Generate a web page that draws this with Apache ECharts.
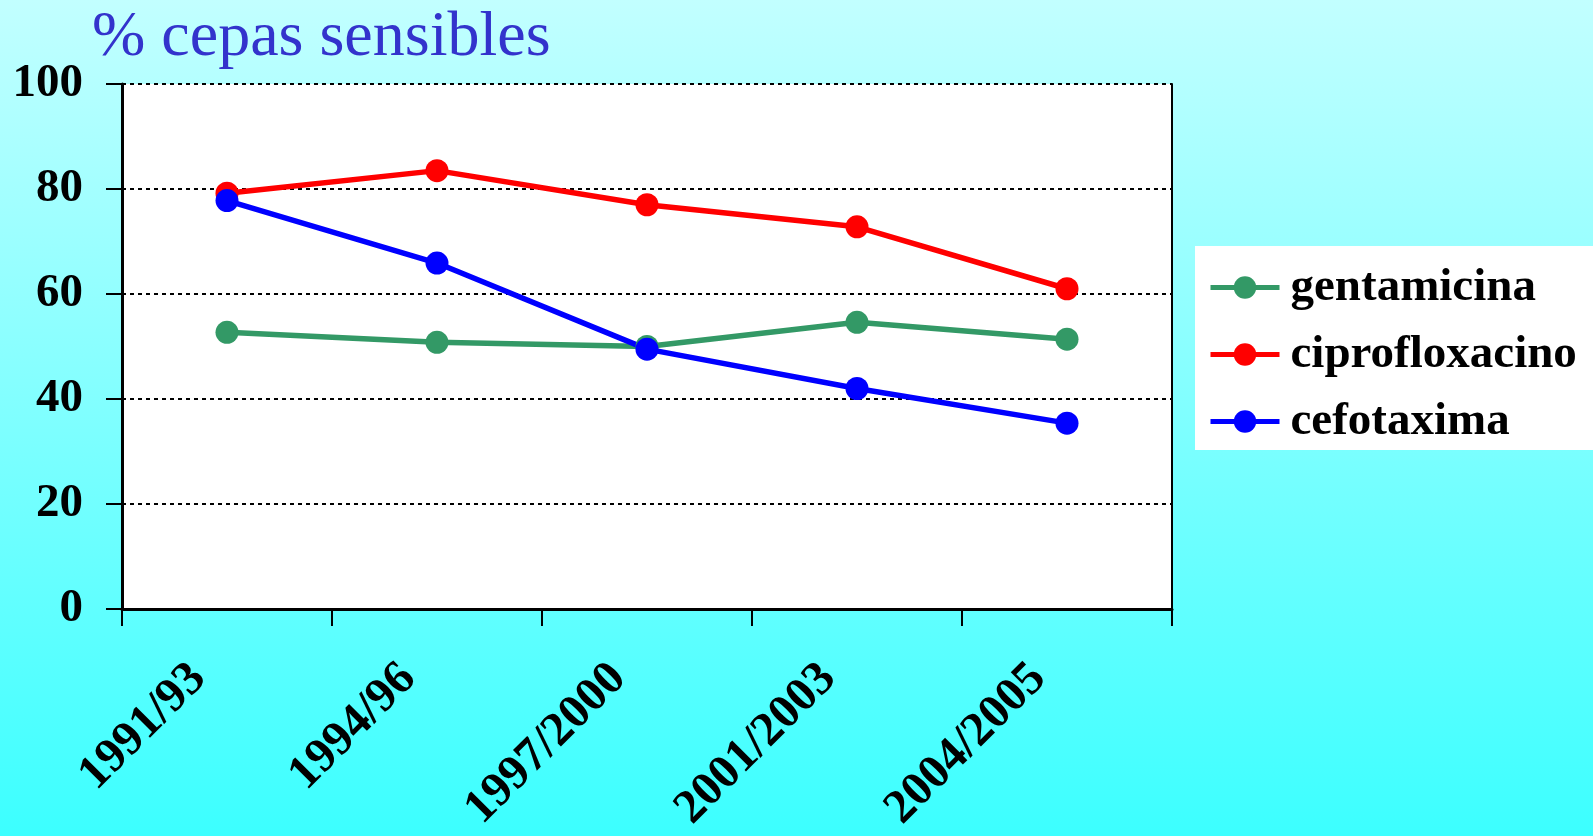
<!DOCTYPE html>
<html>
<head>
<meta charset="utf-8">
<script src="https://cdn.jsdelivr.net/npm/echarts@6/dist/echarts.min.js"></script>
<style>
  html, body { margin: 0; padding: 0; }
  body { width: 1593px; height: 836px; overflow: hidden;
         background: linear-gradient(to bottom, #c2ffff 0%, #3cffff 100%); }
  #chart { width: 1593px; height: 836px; }
</style>
</head>
<body>
<div id="chart"></div>
<script>
// Survey periods (x axis)
const periods = ['1991/93', '1994/96', '1997/2000', '2001/2003', '2004/2005'];

// % of susceptible strains per antibiotic
const gentamicina = [52.7, 50.8, 50.0, 54.6, 51.4];
const ciprofloxacino = [79.2, 83.5, 77.0, 72.8, 61.0];
const cefotaxima = [77.8, 65.9, 49.5, 42.0, 35.4];

// Y axis range
const yMin = 0, yMax = 100, yStep = 20;

const serif = '"Liberation Serif", "Times New Roman", serif';

const chart = echarts.init(document.getElementById('chart'), null, { renderer: 'canvas' });

function lineSeries(name, data, color) {
  return {
    name: name,
    type: 'line',
    data: data,
    symbol: 'circle',
    symbolSize: 23,
    lineStyle: { color: color, width: 5.5 },
    itemStyle: { color: color },
    emphasis: { disabled: true },
    animation: false
  };
}

chart.setOption({
  backgroundColor: 'transparent',
  animation: false,
  title: {
    text: '% cepas sensibles',
    left: 92,
    top: 6,
    padding: 0,
    textStyle: { fontFamily: serif, fontSize: 64, fontWeight: 'normal', color: '#3333cc' }
  },
  legend: {
    orient: 'vertical',
    left: 1195,
    top: 246,
    padding: [18, 30, 5, 13],
    backgroundColor: '#ffffff',
    itemWidth: 69,
    itemHeight: 28,
    itemGap: 20,
    lineStyle: { width: 5 },
    textStyle: { fontFamily: serif, fontSize: 47, fontWeight: 'bold', color: '#000',
                 lineHeight: 46, padding: [0, 0, 0, 6] },
    data: ['gentamicina', 'ciprofloxacino', 'cefotaxima']
  },
  grid: {
    left: 122, right: 421, top: 84, bottom: 227,
    show: true, backgroundColor: '#ffffff', borderWidth: 0,
    containLabel: false
  },
  xAxis: {
    type: 'category',
    data: periods,
    boundaryGap: true,
    axisLine: { lineStyle: { color: '#000', width: 3 } },
    axisTick: { show: true, length: 17, lineStyle: { color: '#000', width: 2 } },
    axisLabel: {
      rotate: 45,
      interval: 0,
      margin: 34,
      padding: [0, 40, 0, 0],
      fontFamily: serif, fontSize: 48, fontWeight: 'bold', color: '#000'
    },
    splitLine: { show: false }
  },
  yAxis: [
    {
      type: 'value',
      min: yMin, max: yMax, interval: yStep,
      axisLine: { show: true, lineStyle: { color: '#000', width: 3 } },
      axisTick: { show: true, length: 16, lineStyle: { color: '#000', width: 2 } },
      axisLabel: { margin: 39, fontFamily: serif, fontSize: 47, fontWeight: 'bold', color: '#000' },
      splitLine: { show: true, lineStyle: { color: '#000', width: 2, type: [4, 4] } }
    },
    {
      type: 'value',
      position: 'right',
      min: yMin, max: yMax, interval: yStep,
      axisLine: { show: true, lineStyle: { color: '#000', width: 2 } },
      axisTick: { show: false },
      axisLabel: { show: false },
      splitLine: { show: false }
    }
  ],
  series: [
    lineSeries('gentamicina', gentamicina, '#339966'),
    lineSeries('ciprofloxacino', ciprofloxacino, '#ff0000'),
    lineSeries('cefotaxima', cefotaxima, '#0000ff')
  ]
});
</script>
</body>
</html>
